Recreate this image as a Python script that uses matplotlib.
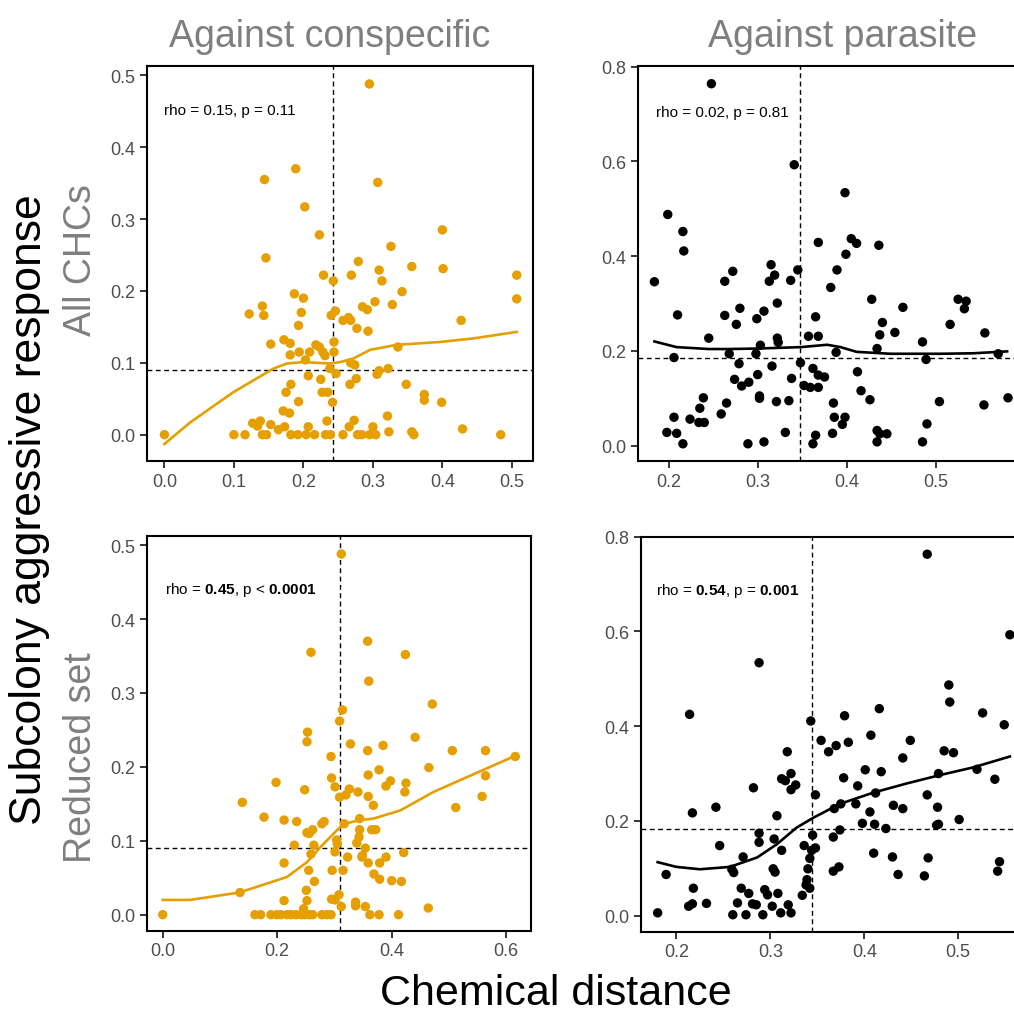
import matplotlib
matplotlib.use("Agg")
import matplotlib.pyplot as plt

plt.rcParams["font.family"] = ["Liberation Sans", "DejaVu Sans"]
plt.rcParams["mathtext.fontset"] = "custom"
plt.rcParams["mathtext.rm"] = "Liberation Sans"
plt.rcParams["mathtext.bf"] = "Liberation Sans:bold"

ORANGE = "#E69F00"
GREY_TXT = "#7F7F7F"
TICK_TXT = "#4D4D4D"

# ---- data ----
# top-left: conspecific, all CHCs
cons_all_x = [0.295, 0.189, 0.144, 0.307, 0.202, 0.223, 0.400, 0.326, 0.146, 0.279,
              0.356, 0.401, 0.309, 0.229, 0.269, 0.243, 0.313, 0.507, 0.342, 0.187,
              0.200, 0.507, 0.303, 0.141, 0.328, 0.285, 0.292, 0.122, 0.143, 0.197,
              0.246, 0.240, 0.257, 0.265, 0.268, 0.427, 0.193, 0.277, 0.293, 0.153,
              0.172, 0.181, 0.218, 0.223, 0.244, 0.194, 0.209, 0.181, 0.228, 0.231,
              0.244, 0.336, 0.203, 0.268, 0.274, 0.238, 0.247, 0.309, 0.306, 0.322,
              0.207, 0.225, 0.276, 0.182, 0.267, 0.348, 0.175, 0.227, 0.235, 0.374,
              0.374, 0.193, 0.399, 0.242, 0.171, 0.180, 0.321, 0.127, 0.138, 0.134,
              0.153, 0.164, 0.173, 0.207, 0.234, 0.273, 0.266, 0.300, 0.323, 0.356,
              0.429,
              0.000, 0.100, 0.116, 0.141, 0.147, 0.182, 0.192, 0.204, 0.216, 0.232,
              0.239, 0.257, 0.278, 0.284, 0.295, 0.304, 0.359, 0.484]
cons_all_y = [0.488, 0.370, 0.355, 0.351, 0.317, 0.278, 0.285, 0.262, 0.246, 0.241,
              0.234, 0.231, 0.229, 0.222, 0.222, 0.214, 0.214, 0.222, 0.199, 0.196,
              0.190, 0.189, 0.185, 0.179, 0.181, 0.178, 0.174, 0.168, 0.166, 0.170,
              0.172, 0.166, 0.159, 0.163, 0.159, 0.159, 0.152, 0.148, 0.144, 0.126,
              0.132, 0.127, 0.125, 0.122, 0.129, 0.115, 0.115, 0.111, 0.115, 0.110,
              0.115, 0.122, 0.104, 0.100, 0.097, 0.092, 0.085, 0.089, 0.084, 0.092,
              0.082, 0.077, 0.078, 0.070, 0.070, 0.070, 0.059, 0.059, 0.059, 0.056,
              0.048, 0.046, 0.045, 0.045, 0.033, 0.030, 0.026, 0.016, 0.019, 0.012,
              0.014, 0.007, 0.011, 0.011, 0.019, 0.020, 0.011, 0.011, 0.004, 0.004,
              0.008,
              0.0, 0.0, 0.0, 0.0, 0.0, 0.0, 0.0, 0.0, 0.0, 0.0,
              0.0, 0.0, 0.0, 0.0, 0.0, 0.0, 0.0, 0.0]
cons_all_fit_x = [0.0, 0.037, 0.099, 0.157, 0.176, 0.200, 0.238, 0.253, 0.272, 0.296,
                  0.334, 0.397, 0.445, 0.507]
cons_all_fit_y = [-0.013, 0.017, 0.059, 0.092, 0.099, 0.101, 0.099, 0.101, 0.106, 0.118,
                  0.125, 0.129, 0.134, 0.143]

# top-right: parasite, all CHCs
para_all_x = [0.248, 0.341, 0.398, 0.199, 0.216, 0.217, 0.368, 0.405, 0.411, 0.436,
              0.399, 0.184, 0.263, 0.272, 0.315, 0.319, 0.313, 0.337, 0.345, 0.389,
              0.382, 0.322, 0.280, 0.307, 0.299, 0.263, 0.210, 0.276, 0.365, 0.428,
              0.463, 0.440, 0.454, 0.437, 0.525, 0.534, 0.532, 0.516, 0.555, 0.245,
              0.322, 0.323, 0.357, 0.368, 0.303, 0.434, 0.485, 0.388, 0.268, 0.298,
              0.206, 0.489, 0.570, 0.348, 0.279, 0.316, 0.362, 0.412, 0.300, 0.368,
              0.375, 0.274, 0.338, 0.290, 0.282, 0.352, 0.359, 0.368, 0.416, 0.239,
              0.302, 0.302, 0.426, 0.581, 0.504, 0.321, 0.335, 0.265, 0.385, 0.554,
              0.235, 0.206, 0.259, 0.224, 0.234, 0.240, 0.386, 0.398, 0.395, 0.490,
              0.198, 0.209, 0.216, 0.331, 0.289, 0.307, 0.362, 0.365, 0.384, 0.434,
              0.437, 0.445, 0.434, 0.485]
para_all_y = [0.764, 0.593, 0.534, 0.488, 0.452, 0.411, 0.429, 0.437, 0.427, 0.423,
              0.404, 0.346, 0.347, 0.368, 0.382, 0.360, 0.347, 0.349, 0.371, 0.371,
              0.334, 0.301, 0.290, 0.284, 0.268, 0.275, 0.276, 0.256, 0.272, 0.309,
              0.292, 0.260, 0.239, 0.234, 0.309, 0.305, 0.289, 0.256, 0.238, 0.227,
              0.227, 0.218, 0.231, 0.231, 0.212, 0.205, 0.219, 0.197, 0.194, 0.194,
              0.186, 0.182, 0.194, 0.175, 0.173, 0.168, 0.163, 0.156, 0.150, 0.149,
              0.145, 0.140, 0.142, 0.134, 0.126, 0.127, 0.123, 0.123, 0.116, 0.101,
              0.105, 0.100, 0.097, 0.101, 0.093, 0.093, 0.095, 0.090, 0.090, 0.086,
              0.079, 0.060, 0.067, 0.056, 0.049, 0.049, 0.060, 0.060, 0.045, 0.046,
              0.028, 0.026, 0.004, 0.028, 0.004, 0.008, 0.004, 0.022, 0.026, 0.032,
              0.025, 0.025, 0.008, 0.008]
para_all_fit_x = [0.184, 0.209, 0.245, 0.269, 0.299, 0.348, 0.378, 0.393, 0.411, 0.449,
                  0.505, 0.542, 0.580]
para_all_fit_y = [0.220, 0.208, 0.204, 0.204, 0.205, 0.208, 0.213, 0.208, 0.198, 0.194,
                  0.194, 0.195, 0.199]

# bottom-left: conspecific, reduced set
cons_red_x = [0.312, 0.358, 0.259, 0.424, 0.360, 0.471, 0.314, 0.309, 0.253, 0.252,
              0.328, 0.441, 0.385, 0.358, 0.506, 0.564, 0.294, 0.616, 0.465, 0.378,
              0.295, 0.359, 0.564, 0.198, 0.398, 0.390, 0.301, 0.326, 0.341, 0.320,
              0.425, 0.423, 0.248, 0.309, 0.359, 0.368, 0.558, 0.139, 0.512, 0.177,
              0.212, 0.234, 0.278, 0.282, 0.317, 0.344, 0.252, 0.262, 0.256, 0.344,
              0.365, 0.372, 0.343, 0.339, 0.304, 0.305, 0.230, 0.264, 0.354, 0.301,
              0.349, 0.259, 0.421, 0.323, 0.348, 0.390, 0.359, 0.379, 0.212, 0.255,
              0.296, 0.315, 0.369, 0.379, 0.400, 0.417, 0.265, 0.135, 0.251, 0.212,
              0.252, 0.295, 0.301, 0.308, 0.312, 0.337, 0.337, 0.354, 0.464, 0.246,
              0.000, 0.161, 0.171, 0.189, 0.199, 0.206, 0.217, 0.224, 0.233, 0.242,
              0.248, 0.256, 0.262, 0.278, 0.287, 0.294, 0.362, 0.378, 0.412]
cons_red_y = [0.488, 0.370, 0.355, 0.352, 0.316, 0.285, 0.277, 0.262, 0.247, 0.234,
              0.231, 0.240, 0.229, 0.222, 0.222, 0.222, 0.214, 0.214, 0.199, 0.196,
              0.185, 0.189, 0.188, 0.179, 0.181, 0.174, 0.173, 0.170, 0.166, 0.162,
              0.178, 0.166, 0.169, 0.159, 0.160, 0.148, 0.160, 0.152, 0.145, 0.132,
              0.128, 0.126, 0.123, 0.126, 0.123, 0.130, 0.111, 0.115, 0.110, 0.115,
              0.115, 0.115, 0.105, 0.097, 0.101, 0.096, 0.094, 0.094, 0.090, 0.085,
              0.080, 0.082, 0.084, 0.078, 0.078, 0.078, 0.070, 0.070, 0.070, 0.060,
              0.060, 0.060, 0.055, 0.048, 0.046, 0.045, 0.045, 0.030, 0.033, 0.019,
              0.019, 0.021, 0.020, 0.027, 0.011, 0.017, 0.012, 0.011, 0.009, 0.008,
              0.0, 0.0, 0.0, 0.0, 0.0, 0.0, 0.0, 0.0, 0.0, 0.0,
              0.0, 0.0, 0.0, 0.0, 0.0, 0.0, 0.0, 0.0, 0.0]
cons_red_fit_x = [0.0, 0.048, 0.134, 0.217, 0.252, 0.275, 0.304, 0.317, 0.345, 0.368,
                  0.415, 0.473, 0.543, 0.616]
cons_red_fit_y = [0.020, 0.020, 0.030, 0.051, 0.071, 0.091, 0.114, 0.123, 0.128, 0.130,
                  0.141, 0.166, 0.190, 0.215]

# bottom-right: parasite, reduced set
para_red_x = [0.467, 0.555, 0.288, 0.490, 0.491, 0.416, 0.214, 0.526, 0.379, 0.549,
              0.343, 0.407, 0.354, 0.449, 0.383, 0.370, 0.362, 0.318, 0.485, 0.495,
              0.441, 0.401, 0.418, 0.520, 0.322, 0.312, 0.316, 0.378, 0.479, 0.539,
              0.327, 0.322, 0.282, 0.393, 0.348, 0.412, 0.467, 0.242, 0.375, 0.391,
              0.368, 0.431, 0.441, 0.478, 0.217, 0.406, 0.307, 0.398, 0.411, 0.477,
              0.479, 0.501, 0.423, 0.374, 0.288, 0.345, 0.288, 0.304, 0.367, 0.246,
              0.336, 0.348, 0.344, 0.312, 0.410, 0.271, 0.342, 0.430, 0.468, 0.544,
              0.373, 0.367, 0.340, 0.303, 0.305, 0.259, 0.261, 0.542, 0.436, 0.464,
              0.189, 0.218, 0.269, 0.339, 0.338, 0.342, 0.277, 0.294, 0.297, 0.308,
              0.334, 0.265, 0.281, 0.285, 0.232, 0.213, 0.217, 0.302, 0.319, 0.180,
              0.260, 0.274, 0.292, 0.311, 0.322]
para_red_y = [0.763, 0.593, 0.534, 0.487, 0.451, 0.437, 0.425, 0.428, 0.422, 0.403,
              0.411, 0.381, 0.370, 0.370, 0.366, 0.359, 0.346, 0.346, 0.348, 0.344,
              0.333, 0.308, 0.304, 0.309, 0.300, 0.289, 0.285, 0.291, 0.300, 0.288,
              0.276, 0.266, 0.270, 0.274, 0.255, 0.259, 0.255, 0.229, 0.236, 0.236,
              0.226, 0.233, 0.226, 0.229, 0.217, 0.219, 0.211, 0.195, 0.193, 0.191,
              0.193, 0.203, 0.184, 0.181, 0.174, 0.170, 0.155, 0.162, 0.166, 0.148,
              0.148, 0.143, 0.138, 0.138, 0.132, 0.124, 0.121, 0.124, 0.122, 0.114,
              0.103, 0.094, 0.099, 0.099, 0.092, 0.098, 0.091, 0.094, 0.087, 0.084,
              0.087, 0.058, 0.058, 0.076, 0.065, 0.058, 0.047, 0.055, 0.044, 0.047,
              0.043, 0.027, 0.025, 0.023, 0.026, 0.020, 0.025, 0.020, 0.023, 0.006,
              0.002, 0.002, 0.002, 0.006, 0.006]
para_red_fit_x = [0.180, 0.200, 0.225, 0.257, 0.286, 0.307, 0.328, 0.346, 0.374, 0.410,
                  0.445, 0.481, 0.516, 0.555]
para_red_fit_y = [0.113, 0.103, 0.098, 0.103, 0.123, 0.151, 0.186, 0.207, 0.236, 0.260,
                  0.279, 0.297, 0.313, 0.336]

# reference lines (dashed) and annotations
cut_x = [0.242, 0.348, 0.309, 0.3445]
cut_y = [0.090, 0.186, 0.090, 0.184]
labels = [r"rho = 0.15, p = 0.11",
          r"rho = 0.02, p = 0.81",
          r"rho = $\mathbf{0.45}$, p < $\mathbf{0.0001}$",
          r"rho = $\mathbf{0.54}$, p = $\mathbf{0.001}$"]

fig = plt.figure(figsize=(10.14, 10.12), dpi=100)

panels = [
    dict(pos=[0.145, 0.5435, 0.3807, 0.3903], x=cons_all_x, y=cons_all_y,
         fx=cons_all_fit_x, fy=cons_all_fit_y, c=ORANGE,
         xlim=(-0.025, 0.5305), ylim=(-0.0366, 0.513),
         xt=[0.0, 0.1, 0.2, 0.3, 0.4, 0.5], yt=[0.0, 0.1, 0.2, 0.3, 0.4, 0.5],
         tpos=(0.044, 0.889)),
    dict(pos=[0.6292, 0.5435, 0.3807, 0.3903], x=para_all_x, y=para_all_y,
         fx=para_all_fit_x, fy=para_all_fit_y, c="black",
         xlim=(0.1656, 0.599), ylim=(-0.0323, 0.8014),
         xt=[0.2, 0.3, 0.4, 0.5], yt=[0.0, 0.2, 0.4, 0.6, 0.8],
         tpos=(0.046, 0.883)),
    dict(pos=[0.1447, 0.0794, 0.3787, 0.3897], x=cons_red_x, y=cons_red_y,
         fx=cons_red_fit_x, fy=cons_red_fit_y, c=ORANGE,
         xlim=(-0.028, 0.643), ylim=(-0.0216, 0.512),
         xt=[0.0, 0.2, 0.4, 0.6], yt=[0.0, 0.1, 0.2, 0.3, 0.4, 0.5],
         tpos=(0.048, 0.866)),
    dict(pos=[0.6319, 0.0784, 0.3807, 0.3903], x=para_red_x, y=para_red_y,
         fx=para_red_fit_x, fy=para_red_fit_y, c="black",
         xlim=(0.162, 0.573), ylim=(-0.0337, 0.800),
         xt=[0.2, 0.3, 0.4, 0.5], yt=[0.0, 0.2, 0.4, 0.6, 0.8],
         tpos=(0.039, 0.866)),
]

for i, p in enumerate(panels):
    ax = fig.add_axes(p["pos"])
    ax.scatter(p["x"], p["y"], s=46, color=p["c"], edgecolors="none", zorder=3)
    ax.plot(p["fx"], p["fy"], color=p["c"], lw=1.9, zorder=4)
    ax.axvline(cut_x[i], color="black", lw=1.0, dashes=(3.5, 2.5), zorder=2)
    ax.axhline(cut_y[i], color="black", lw=1.0, dashes=(3.5, 2.5), zorder=2)
    ax.set_xlim(*p["xlim"])
    ax.set_ylim(*p["ylim"])
    ax.set_xticks(p["xt"])
    ax.set_yticks(p["yt"])
    ax.set_xticklabels([f"{v:.1f}" for v in p["xt"]])
    ax.set_yticklabels([f"{v:.1f}" for v in p["yt"]])
    ax.tick_params(direction="out", length=5, width=1.1, color="black",
                   labelcolor=TICK_TXT, labelsize=13, pad=3.5)
    for sp in ax.spines.values():
        sp.set_linewidth(1.5)
        sp.set_color("black")
    ax.text(p["tpos"][0], p["tpos"][1], labels[i], transform=ax.transAxes,
            fontsize=11, ha="left", va="center", color="black")

# column titles, row labels and shared axis titles
fig.text(330 / 1014, 1 - 47 / 1012, "Against conspecific", fontsize=27,
         color=GREY_TXT, ha="center", va="baseline")
fig.text(843 / 1014, 1 - 47 / 1012, "Against parasite", fontsize=27,
         color=GREY_TXT, ha="center", va="baseline")
fig.text(81 / 1014, 1 - 260 / 1012, "All CHCs", fontsize=27, color=GREY_TXT,
         rotation=90, ha="center", va="center")
fig.text(81 / 1014, 1 - 758 / 1012, "Reduced set", fontsize=27, color=GREY_TXT,
         rotation=90, ha="center", va="center")
fig.text(30 / 1014, 1 - 510 / 1012, "Subcolony aggressive response", fontsize=32,
         color="black", rotation=90, ha="center", va="center")
fig.text(556 / 1014, 1 - 1005 / 1012, "Chemical distance", fontsize=31,
         color="black", ha="center", va="baseline")

fig.savefig("out.png", dpi=100)
